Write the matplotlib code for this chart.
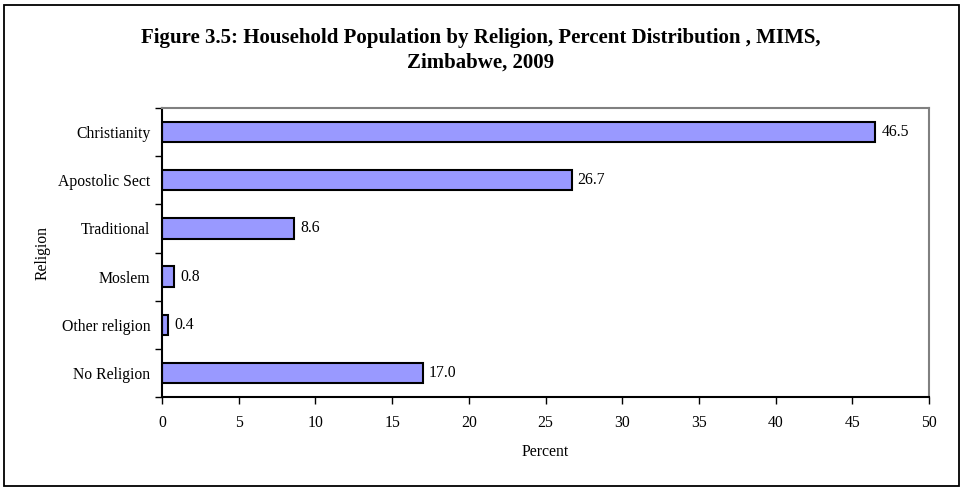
import matplotlib.pyplot as plt
from matplotlib.patches import Rectangle
import numpy as np

plt.rcParams['font.family'] = ['Liberation Serif', 'DejaVu Serif']

religions = ["Christianity", "Apostolic Sect", "Traditional", "Moslem", "Other religion", "No Religion"]
percent = [46.5, 26.7, 8.6, 0.8, 0.4, 17.0]
xticks = [0, 5, 10, 15, 20, 25, 30, 35, 40, 45, 50]

fig = plt.figure(figsize=(9.62, 4.88), dpi=100)
ax = fig.add_axes([162/962, 1 - 397/488, (929-162)/962, (397-108)/488])

pos = np.arange(len(religions))[::-1]
ax.barh(pos, percent, height=0.42, color='#9999ff', edgecolor='black', linewidth=1.5)
for y, v in zip(pos, percent):
    ax.text(v + 0.4, y, "%.1f" % v, va='center', ha='left', fontsize=11.3)

ax.set_xlim(0, 50)
ax.set_ylim(-0.5, len(religions) - 0.5)
ax.set_xticks(xticks)
ax.set_xticklabels([str(t) for t in xticks], fontsize=11.3)
ax.set_yticks(pos)
ax.set_yticklabels(religions, fontsize=11.3)
ax.tick_params(axis='y', length=0, pad=8.5)
# category boundary ticks on the y axis
ax.set_yticks(np.arange(-0.5, len(religions), 1.0), minor=True)
ax.tick_params(axis='y', which='minor', length=5, width=1, direction='out')
ax.tick_params(axis='x', length=5, width=1, direction='out', pad=8)

ax.spines['left'].set_color('black')
ax.spines['bottom'].set_color('black')
ax.spines['top'].set_color('#808080')
ax.spines['right'].set_color('#808080')
for s in ax.spines.values():
    s.set_linewidth(1.5)

ax.set_xlabel("Percent", fontsize=11.3, labelpad=9)
ax.set_ylabel("Religion", fontsize=11.3, labelpad=5)

fig.text(0.5, 1 - 38/488, "Figure 3.5: Household Population by Religion, Percent Distribution , MIMS,",
         ha='center', va='center', fontsize=15, fontweight='bold')
fig.text(0.5, 1 - 63/488, "Zimbabwe, 2009", ha='center', va='center', fontsize=15, fontweight='bold')

# outer frame
fig.patches.append(Rectangle((4/962, 1 - 486/488), 955/962, 481/488, transform=fig.transFigure,
                             fill=False, edgecolor='black', linewidth=1.3))

fig.savefig("out.png", dpi=100)
